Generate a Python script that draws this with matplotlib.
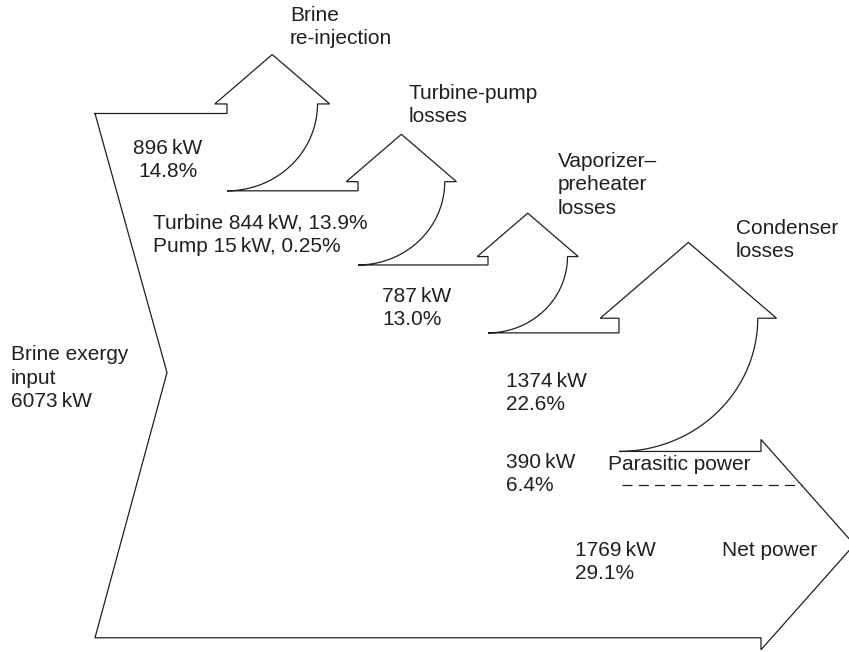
import numpy as np
import matplotlib.pyplot as plt

plt.rcParams['font.family'] = ['Liberation Sans', 'DejaVu Sans']

# exergy flows, kW
input_kw = 6073
loss_names = ['Brine\nre-injection', 'Turbine-pump\nlosses', 'Vaporizer\u2013\npreheater\nlosses',
              'Condenser\nlosses']
loss_kw = [896, 844 + 15, 787, 1374]
loss_labels = ['896\u2009kW\n14.8%', 'Turbine 844\u2009kW, 13.9%\nPump 15\u2009kW, 0.25%',
               '787\u2009kW\n13.0%', '1374\u2009kW\n22.6%']
parasitic_kw = 390
net_kw = 1769

# layout (pixels)
sv = 0.0863   # px per kW, vertical band width
sh = 0.101    # px per kW, loss arrow width
x_left = 95
y_top = 113.5
x_split = [227, 358, 488, 619]
x_out = 761
ink = '#231f20'

fig = plt.figure(figsize=(8.49, 6.52), dpi=100)
ax = fig.add_axes([0, 0, 1, 1])
ax.set_xlim(0, 849)
ax.set_ylim(652, 0)
ax.axis('off')

xs = [x_left]
ys = [y_top]
y = y_top
for xs0, kw in zip(x_split, loss_kw):
    w = kw * sh
    h = 0.96 * w
    yb = y + kw * sv
    ys_top = yb - h
    oh = 0.135 * w
    hh = 0.43 * (w + 2 * oh)
    xs += [xs0, xs0, xs0 - oh, xs0 + w / 2, xs0 + w + oh, xs0 + w]
    ys += [y, ys_top, ys_top, ys_top - hh, ys_top, ys_top]
    t = np.linspace(0, np.pi / 2, 40)
    xs += list(xs0 + w * np.cos(t))
    ys += list(ys_top + h * np.sin(t))
    y = yb

# output arrow
y_bot = y + (parasitic_kw + net_kw) * sv
oh = 12
half = (y_bot - y) / 2 + oh
slope = 87 / 98
tip_x = x_out + half * slope
xs += [x_out, x_out, tip_x, x_out, x_out, x_left, x_left + 72, x_left]
ys += [y, y - oh, y + half - oh, y_bot + oh, y_bot, y_bot, (y_top + y_bot) / 2 - 3, y_top]
ax.plot(xs, ys, color=ink, lw=0.9, solid_joinstyle='miter')

# parasitic / net split
y_dash = y + parasitic_kw * sv
x_dash_end = x_out + (y_dash - (y - oh)) * slope
ax.plot([622, x_dash_end], [y_dash, y_dash], color=ink, lw=0.9, dashes=(8, 5))

fs = 15
txt = dict(color=ink, fontsize=fs, va='center', linespacing=1.28)
ax.text(290, 27, loss_names[0], ha='left', **txt)
ax.text(409, 105, loss_names[1], ha='left', **txt)
ax.text(558, 185, loss_names[2], ha='left', **txt)
ax.text(736, 240, loss_names[3], ha='left', **txt)

ax.text(168, 160, loss_labels[0], ha='center', multialignment='center', **txt)
ax.text(153, 235, loss_labels[1], ha='left', **txt)
ax.text(382, 308, loss_labels[2], ha='left', **txt)
ax.text(506, 393, loss_labels[3], ha='left', **txt)
ax.text(506, 474, '390\u2009kW\n6.4%', ha='left', **txt)
ax.text(608, 465, 'Parasitic power', ha='left', **txt)
ax.text(575, 562, '1769\u2009kW\n29.1%', ha='left', **txt)
ax.text(722, 550, 'Net power', ha='left', **txt)
ax.text(11, 378, 'Brine exergy\ninput\n6073\u2009kW', ha='left', **txt)

fig.savefig('out.png', dpi=100)
